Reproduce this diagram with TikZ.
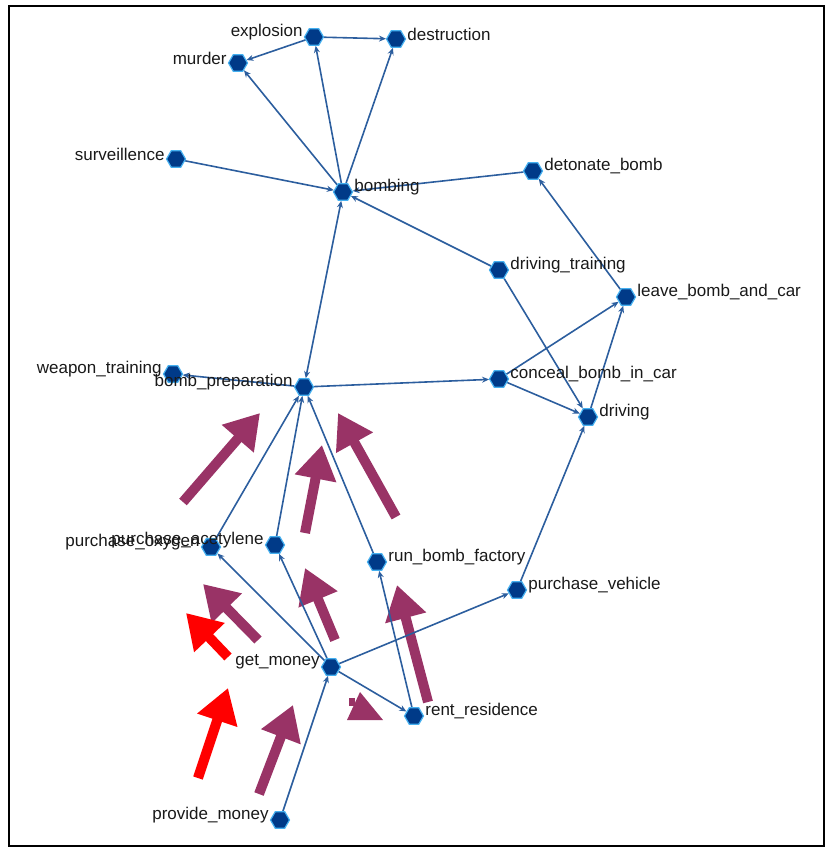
\documentclass[tikz,border=0pt]{standalone}
\usepackage{fontspec}
\setmainfont{Liberation Sans}
\usepackage{tikz}
\usetikzlibrary{arrows.meta,shapes.geometric,backgrounds}
\definecolor{hexfill}{HTML}{003A88}
\definecolor{hexrim}{HTML}{45B0F0}
\definecolor{linkblue}{HTML}{2C5E9E}
\definecolor{plum}{HTML}{993366}
\definecolor{alarm}{HTML}{FF0000}
\tikzset{
  ev/.style    ={regular polygon,regular polygon sides=6,draw=hexrim,fill=hexfill,
                 line width=1.2pt,minimum size=19pt,inner sep=0pt},
  tag/.style   ={font=\fontsize{17}{19}\selectfont,text=black!90,inner sep=1pt,yshift=5pt},
  lr/.style    ={label={[tag]right:#1}},
  ll/.style    ={label={[tag]left:#1}},
  link/.style  ={-{Stealth[length=7pt,width=6pt]},line width=1.6pt,draw=linkblue},
  twoway/.style={{Stealth[length=7pt,width=6pt]}-{Stealth[length=7pt,width=6pt]},
                 line width=1.6pt,draw=linkblue},
  hint/.style  ={-{Triangle[length=34pt,width=40pt]},line width=10pt,draw=plum},
  warn/.style  ={-{Triangle[length=34pt,width=40pt]},line width=10pt,draw=alarm}
}

\begin{document}
\begin{tikzpicture}[x=1pt,y=-1pt]
  \useasboundingbox (0,0) rectangle (831,848);
  \draw[line width=1.6pt] (9,6) rectangle (824,846);

  % events
  \node[ev,ll=explosion] (explosion) at (314,37) {};
  \node[ev,lr=destruction] (destruction) at (396,39) {};
  \node[ev,ll=murder] (murder) at (238,63) {};
  \node[ev,ll=surveillence] (surveil) at (176,159) {};
  \node[ev,lr=bombing] (bombing) at (343,192) {};
  \node[ev,lr=detonate\_bomb] (detonate) at (533,171) {};
  \node[ev,lr=driving\_training] (drivetrain) at (499,270) {};
  \node[ev,lr=leave\_bomb\_and\_car] (leave) at (626,297) {};
  \node[ev,ll=weapon\_training] (weapon) at (173,374) {};
  \node[ev,ll=bomb\_preparation] (prep) at (304,387) {};
  \node[ev,lr=conceal\_bomb\_in\_car] (conceal) at (499,379) {};
  \node[ev,lr=driving] (driving) at (588,417) {};
  \node[ev,ll=purchase\_oxygen] (oxygen) at (211,547) {};
  \node[ev,ll=purchase\_acetylene] (acetylene) at (275,545) {};
  \node[ev,lr=run\_bomb\_factory] (factory) at (377,562) {};
  \node[ev,lr=purchase\_vehicle] (vehicle) at (517,590) {};
  \node[ev,ll=get\_money] (money) at (331,667) {};
  \node[ev,lr=rent\_residence] (residence) at (414,716) {};
  \node[ev,ll=provide\_money] (provide) at (280,820) {};

  \begin{scope}[on background layer]
    % highlight arrows
    \draw[hint] (183,502) -- (260,413);
    \draw[hint] (305,533) -- (322,445);
    \draw[hint] (396,517) -- (338,413);
    \draw[hint] (258,640) -- (203,584);
    \draw[hint] (335,640) -- (305,568);
    \draw[hint] (428,702) -- (397,585);
    \draw[hint] (259,794) -- (293,705);
    \fill[plum] (347,720) -- (383,720) -- (360,692) -- cycle;
    \fill[plum] (349,698) rectangle (355,706);
    \draw[warn] (228,657) -- (186,613);
    \draw[warn] (198,778) -- (228,688);

    % links
    \draw[link] (explosion) -- (murder);
    \draw[link] (explosion) -- (destruction);
    \draw[link] (bombing) -- (murder);
    \draw[link] (bombing) -- (explosion);
    \draw[link] (bombing) -- (destruction);
    \draw[link] (surveil) -- (bombing);
    \draw[link] (detonate) -- (bombing);
    \draw[link] (leave) -- (detonate);
    \draw[link] (drivetrain) -- (bombing);
    \draw[link] (drivetrain) -- (driving);
    \draw[link] (conceal) -- (leave);
    \draw[link] (conceal) -- (driving);
    \draw[link] (driving) -- (leave);
    \draw[link] (prep) -- (conceal);
    \draw[link] (prep) -- (weapon);
    \draw[twoway] (prep) -- (bombing);
    \draw[link] (oxygen) -- (prep);
    \draw[link] (acetylene) -- (prep);
    \draw[link] (factory) -- (prep);
    \draw[link] (money) -- (oxygen);
    \draw[link] (money) -- (acetylene);
    \draw[link] (money) -- (vehicle);
    \draw[link] (money) -- (residence);
    \draw[link] (residence) -- (factory);
    \draw[link] (vehicle) -- (driving);
    \draw[link] (provide) -- (money);
  \end{scope}
\end{tikzpicture}
\end{document}
